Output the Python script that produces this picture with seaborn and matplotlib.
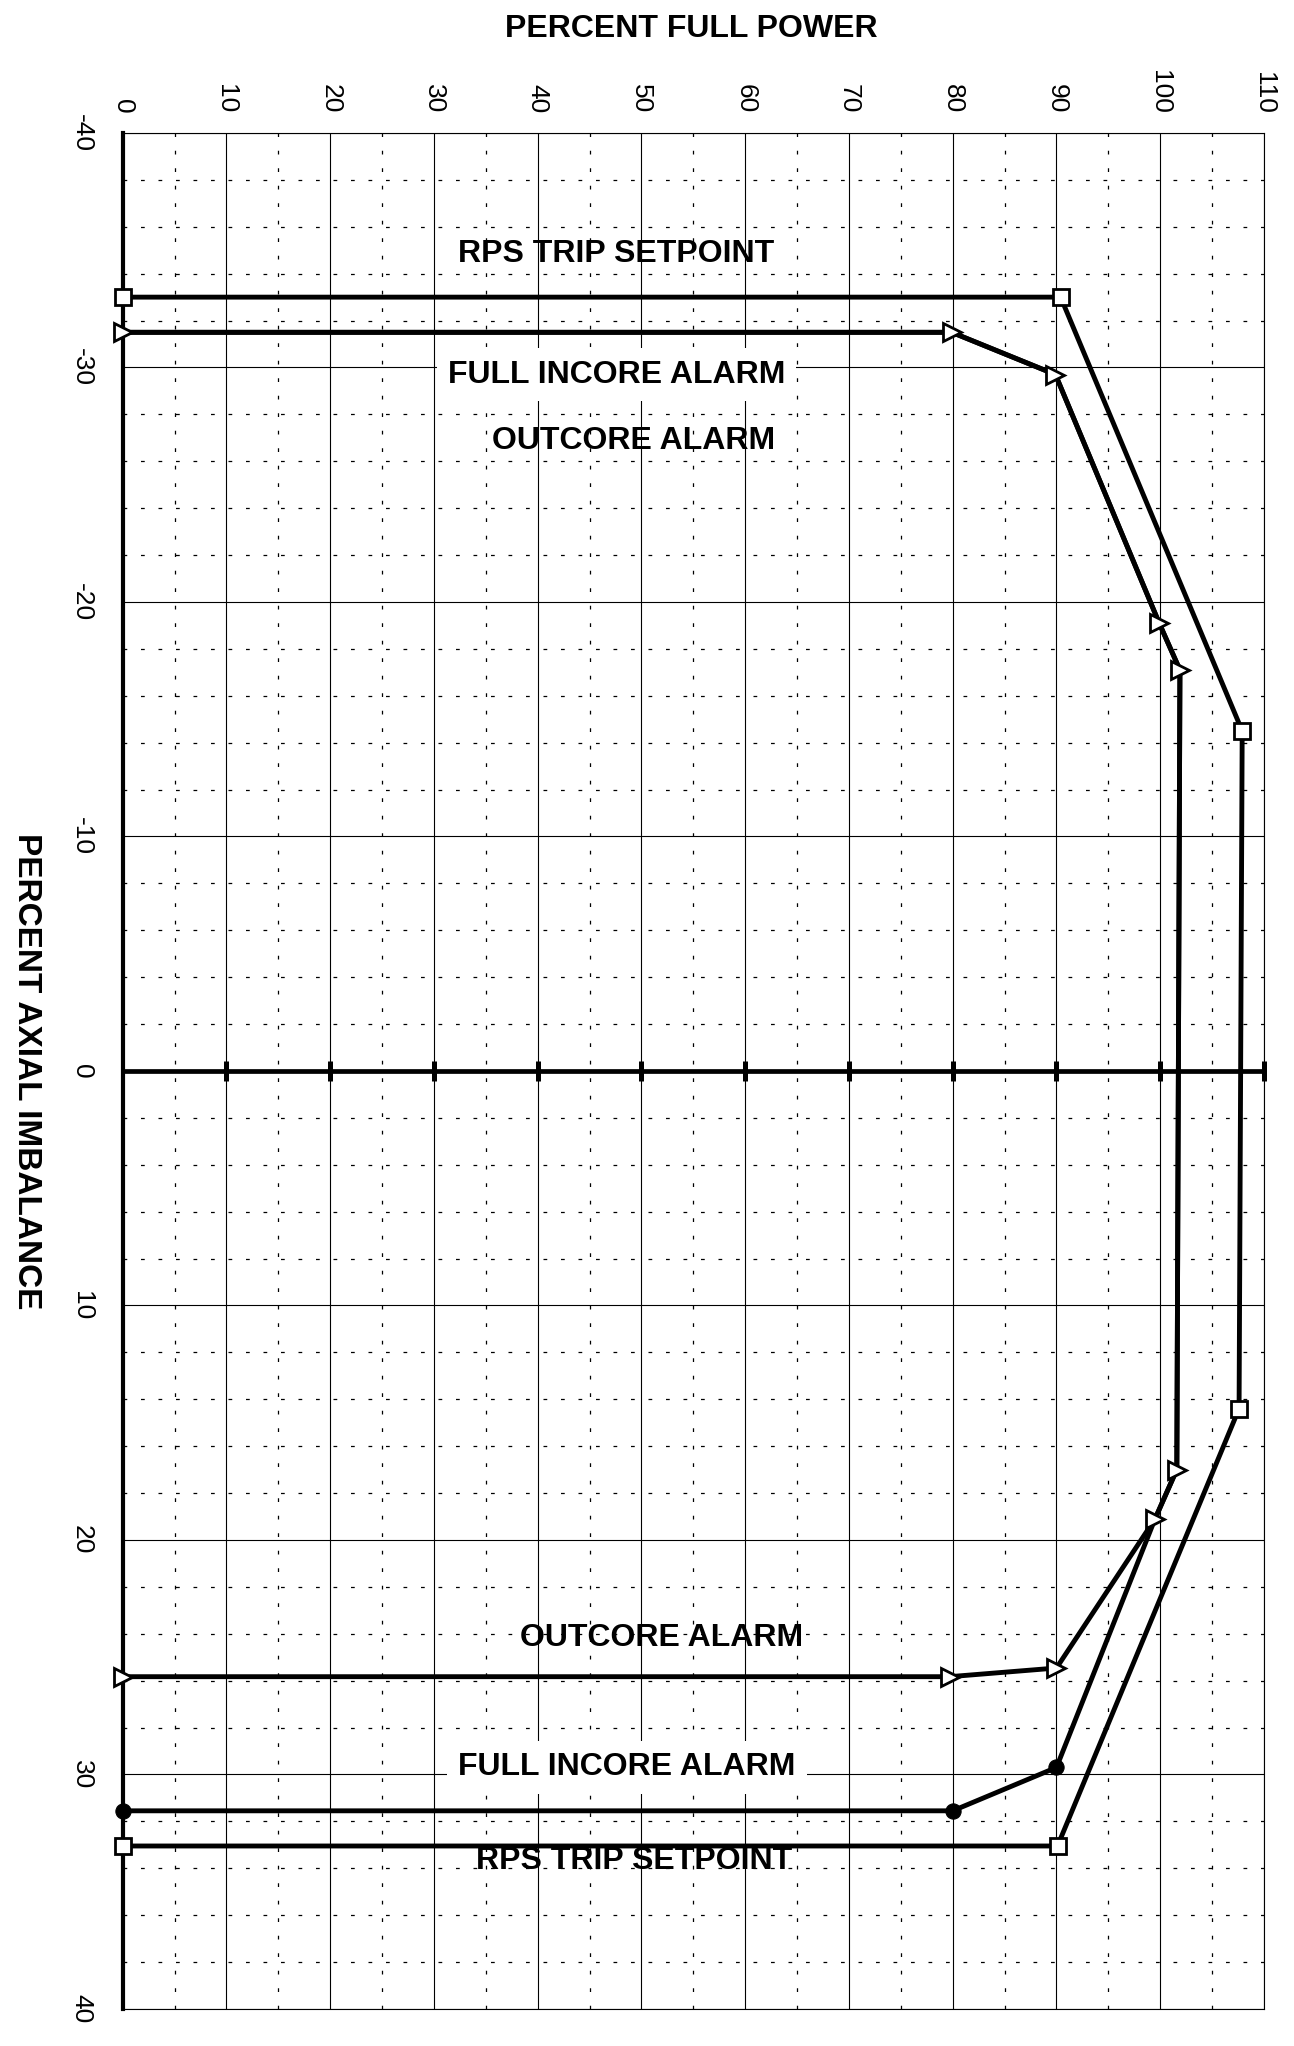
import matplotlib
matplotlib.use('Agg')
import matplotlib.pyplot as plt
import seaborn as sns
from matplotlib.ticker import MultipleLocator

# RPS trip setpoint envelope (percent full power vs percent axial imbalance)
rps_power = [0, 90.4, 107.9, 107.6, 90.1, 0]
rps_imbalance = [-33.0, -33.0, -14.5, 14.4, 33.05, 33.05]

# outcore alarm envelope
outcore_power = [0, 79.7, 90.0, 99.5, 101.6, 101.9, 99.9, 89.9, 79.9, 0]
outcore_imbalance = [25.83, 25.83, 25.46, 19.1, 17.0, -17.1, -19.1, -29.7, -31.5, -31.5]

# full incore alarm envelope (runs on the outcore line above 19 %)
incore_power = [0, 80.0, 90.0, 99.5, 101.6, 101.9, 99.9, 89.9, 79.9, 0]
incore_imbalance = [31.55, 31.55, 29.7, 19.1, 17.0, -17.1, -19.1, -29.7, -31.5, -31.5]

power_ticks = list(range(0, 111, 10))
imbalance_ticks = list(range(-40, 41, 10))

labels = ['RPS TRIP SETPOINT', 'FULL INCORE ALARM', 'OUTCORE ALARM',
          'OUTCORE ALARM', 'FULL INCORE ALARM', 'RPS TRIP SETPOINT']
label_power = [47.6, 47.6, 49.2, 51.9, 48.6, 49.3]
label_imbalance = [-34.85, -29.7, -26.85, 24.2, 29.7, 33.7]
label_boxed = [False, True, False, False, True, False]

sns.set_style('white')
plt.rcParams['font.family'] = ['Liberation Sans', 'DejaVu Sans']
plt.rcParams['axes.unicode_minus'] = False
plt.rcParams['text.color'] = 'black'
plt.rcParams['axes.labelcolor'] = 'black'

fig, ax = plt.subplots(figsize=(12.94, 20.46), dpi=100)
fig.subplots_adjust(left=0.0948, right=0.9768, top=0.935, bottom=0.0181)

# envelopes
sns.lineplot(x=rps_power, y=rps_imbalance, sort=False, estimator=None, ax=ax,
             color='black', linewidth=3.5, marker='s', markersize=12,
             markerfacecolor='white', markeredgecolor='black', markeredgewidth=2,
             clip_on=False, zorder=4)
sns.lineplot(x=incore_power, y=incore_imbalance, sort=False, estimator=None, ax=ax,
             color='black', linewidth=3.5, marker='o', markersize=11, markevery=[0, 1, 2],
             markerfacecolor='black', markeredgecolor='black',
             clip_on=False, zorder=4)
sns.lineplot(x=outcore_power, y=outcore_imbalance, sort=False, estimator=None, ax=ax,
             color='black', linewidth=3.5, marker='>', markersize=13,
             markerfacecolor='white', markeredgecolor='black', markeredgewidth=2,
             clip_on=False, zorder=5)

# zero imbalance axis with its tick caps
ax.axhline(0, color='black', linewidth=3.4, zorder=3)
ax.plot(power_ticks[1:], [0] * len(power_ticks[1:]), linestyle='none', marker='|',
        markersize=15, markeredgewidth=3.6, color='black', clip_on=False, zorder=3)

ax.set_xlim(0, 110)
ax.set_ylim(40, -40)
ax.set_xticks(power_ticks)
ax.set_yticks(imbalance_ticks)
ax.xaxis.set_minor_locator(MultipleLocator(5))
ax.yaxis.set_minor_locator(MultipleLocator(2))
ax.grid(which='major', color='black', linewidth=0.8, linestyle='-')
ax.grid(which='minor', color='black', linewidth=0.9, linestyle=(0, (3, 11)))
ax.set_axisbelow(True)

ax.xaxis.tick_top()
ax.tick_params(axis='x', which='both', length=0, pad=14, labelsize=19, labelrotation=270,
               colors='black')
ax.tick_params(axis='y', which='major', direction='inout', length=14, width=3, pad=14,
               labelsize=19, labelrotation=270, colors='black')
ax.tick_params(axis='y', which='minor', length=0)
for lbl in ax.get_yticklabels():
    lbl.set_va('center')

for s in ['top', 'right', 'bottom']:
    ax.spines[s].set_linewidth(0.8)
    ax.spines[s].set_color('black')
ax.spines['left'].set_linewidth(3)
ax.spines['left'].set_color('black')

ax.set_ylabel('PERCENT AXIAL IMBALANCE', fontsize=24, fontweight='bold', rotation=270)
ax.yaxis.label.set_va('center')
ax.yaxis.set_label_coords(-0.0847, 0.5)
ax.xaxis.set_label_position('top')
ax.set_xlabel('PERCENT FULL POWER', fontsize=23, fontweight='bold')
ax.xaxis.label.set_va('center')
ax.xaxis.set_label_coords(0.498, 1.0554)

for txt, px, py, boxed in zip(labels, label_power, label_imbalance, label_boxed):
    box = dict(boxstyle='square,pad=0.35', facecolor='white', edgecolor='none') if boxed else None
    ax.text(px, py, txt, ha='center', va='center', fontsize=23, fontweight='bold',
            color='black', zorder=6, bbox=box)

fig.savefig('out.png', dpi=100)
